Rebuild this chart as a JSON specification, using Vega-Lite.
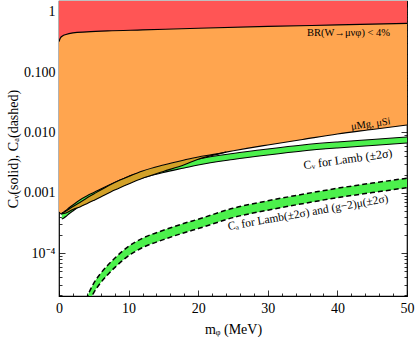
{
  "$schema": "https://vega.github.io/schema/vega-lite/v6.json",
  "width": 348,
  "height": 295,
  "autosize": {"type": "none"},
  "padding": {"left": 59, "top": 1, "right": 8, "bottom": 45},
  "background": "white",
  "datasets": {
    "up": [
      {"x": 0, "v": 0.3186}, {"x": 0.2, "v": 0.367}, {"x": 0.5, "v": 0.396}, {"x": 1, "v": 0.419},
      {"x": 2, "v": 0.444}, {"x": 4, "v": 0.461}, {"x": 7, "v": 0.479}, {"x": 12, "v": 0.498},
      {"x": 20, "v": 0.531}, {"x": 30, "v": 0.569}, {"x": 40, "v": 0.602}, {"x": 50, "v": 0.638}
    ],
    "mg": [
      {"x": 0, "v": 0.000483}, {"x": 0.3, "v": 0.0004474}, {"x": 1, "v": 0.0005015}, {"x": 2, "v": 0.0005955},
      {"x": 3, "v": 0.0006934}, {"x": 4, "v": 0.0008232}, {"x": 5, "v": 0.0009589}, {"x": 6, "v": 0.001117},
      {"x": 8, "v": 0.001487}, {"x": 10, "v": 0.001869}, {"x": 12, "v": 0.002305}, {"x": 15, "v": 0.002897},
      {"x": 18, "v": 0.003505}, {"x": 20, "v": 0.00393}, {"x": 22, "v": 0.004291}, {"x": 24, "v": 0.00472},
      {"x": 27, "v": 0.00545}, {"x": 30, "v": 0.006211}, {"x": 35, "v": 0.00766}, {"x": 40, "v": 0.009444},
      {"x": 45, "v": 0.011212}, {"x": 50, "v": 0.013311}
    ],
    "gold": [
      {"x": 0.3, "lo": 0.0004474, "hi": 0.0004474}, {"x": 1, "lo": 0.0004648, "hi": 0.0005015},
      {"x": 2, "lo": 0.000531, "hi": 0.0005955}, {"x": 3, "lo": 0.000585, "hi": 0.0006934},
      {"x": 4, "lo": 0.00066, "hi": 0.0008232}, {"x": 5, "lo": 0.00075, "hi": 0.0009589},
      {"x": 6, "lo": 0.000855, "hi": 0.001117}, {"x": 8, "lo": 0.00111, "hi": 0.001487},
      {"x": 10, "lo": 0.0014, "hi": 0.001869}, {"x": 12, "lo": 0.00174, "hi": 0.002305},
      {"x": 15, "lo": 0.00226, "hi": 0.002897}, {"x": 18, "lo": 0.00292, "hi": 0.003505},
      {"x": 20, "lo": 0.0036, "hi": 0.00393}, {"x": 22, "lo": 0.00415, "hi": 0.004291},
      {"x": 24, "lo": 0.00472, "hi": 0.00472}
    ],
    "cv": [
      {"x": 0.4, "lo": 0.0003697, "hi": 0.0004647}, {"x": 0.7, "lo": 0.0003841, "hi": 0.0004828},
      {"x": 1, "lo": 0.0004067, "hi": 0.0005112}, {"x": 1.5, "lo": 0.000456, "hi": 0.0005732},
      {"x": 2, "lo": 0.0005015, "hi": 0.0006304}, {"x": 3, "lo": 0.0006069, "hi": 0.0007629},
      {"x": 4, "lo": 0.0007067, "hi": 0.0008883}, {"x": 5, "lo": 0.0008077, "hi": 0.0010153},
      {"x": 6, "lo": 0.0009231, "hi": 0.0011603}, {"x": 8, "lo": 0.001182, "hi": 0.0014858},
      {"x": 10, "lo": 0.001487, "hi": 0.0018692}, {"x": 12, "lo": 0.001765, "hi": 0.0022186},
      {"x": 15, "lo": 0.002177, "hi": 0.0027365}, {"x": 18, "lo": 0.002584, "hi": 0.0032481},
      {"x": 20, "lo": 0.002897, "hi": 0.0036415}, {"x": 25, "lo": 0.003572, "hi": 0.00449},
      {"x": 30, "lo": 0.004242, "hi": 0.005332}, {"x": 35, "lo": 0.00494, "hi": 0.00621},
      {"x": 40, "lo": 0.005536, "hi": 0.006959}, {"x": 45, "lo": 0.006092, "hi": 0.007658},
      {"x": 50, "lo": 0.0067, "hi": 0.008422}
    ],
    "ca": [
      {"x": 3.5, "lo": 0.0000089, "hi": 0.0000128}, {"x": 4.4, "lo": 0.0000164, "hi": 0.0000235},
      {"x": 5, "lo": 0.0000223, "hi": 0.0000319}, {"x": 6, "lo": 0.0000326, "hi": 0.0000466},
      {"x": 7, "lo": 0.0000442, "hi": 0.0000633}, {"x": 8, "lo": 0.0000578, "hi": 0.0000826},
      {"x": 10, "lo": 0.0000911, "hi": 0.00013}, {"x": 12, "lo": 0.000124, "hi": 0.000177},
      {"x": 15, "lo": 0.000168, "hi": 0.00024}, {"x": 18, "lo": 0.000219, "hi": 0.000313},
      {"x": 20, "lo": 0.000256, "hi": 0.000366}, {"x": 25, "lo": 0.000389, "hi": 0.000556},
      {"x": 30, "lo": 0.000517, "hi": 0.000739}, {"x": 35, "lo": 0.000662, "hi": 0.000947},
      {"x": 40, "lo": 0.000833, "hi": 0.00119}, {"x": 45, "lo": 0.00101, "hi": 0.00145},
      {"x": 50, "lo": 0.00122, "hi": 0.00175}
    ]
  },
  "resolve": {"axis": {"x": "independent", "y": "independent"}},
  "layer": [
    {
      "data": {"name": "mg"},
      "mark": {"type": "area", "color": "#FFA54F", "interpolate": "monotone", "clip": true},
      "encoding": {
        "x": {"field": "x", "type": "quantitative", "scale": {"domain": [0, 50], "nice": false, "zero": false},
          "axis": {"orient": "bottom", "values": [0, 10, 20, 30, 40, 50], "title": "mᵩ (MeV)", "tickSize": -6, "labelPadding": 11, "titlePadding": 7, "labelFlush": false}},
        "y": {"field": "v", "type": "quantitative", "scale": {"type": "log", "domain": [0.0000196, 1.5], "nice": false},
          "axis": {"orient": "left", "values": [0.0001, 0.001, 0.01, 0.1, 1], "title": "Cᵥ(solid), Cₐ(dashed)", "tickSize": -6, "labelPadding": 10, "titlePadding": 3, "labelFlush": false,
            "labelExpr": "datum.value < 0.0005 ? '10⁻⁴' : datum.value > 0.5 ? '1' : format(datum.value, '.3f')"}},
        "y2": {"datum": 1.5}
      }
    },
    {
      "data": {"name": "up"},
      "mark": {"type": "area", "color": "#FF5555", "interpolate": "monotone", "clip": true},
      "encoding": {
        "x": {"field": "x", "type": "quantitative", "axis": {"orient": "top", "values": [0, 10, 20, 30, 40, 50], "labels": false, "title": null, "tickSize": -6}},
        "y": {"field": "v", "type": "quantitative", "axis": {"orient": "right", "values": [0.0001, 0.001, 0.01, 0.1, 1], "labels": false, "title": null, "tickSize": -6}},
        "y2": {"datum": 1.5}
      }
    },
    {
      "data": {"name": "cv"},
      "mark": {"type": "area", "color": "#4CF04C", "interpolate": "monotone", "clip": true},
      "encoding": {
        "x": {"field": "x", "type": "quantitative", "axis": {"orient": "bottom", "values": [2, 4, 6, 8, 12, 14, 16, 18, 22, 24, 26, 28, 32, 34, 36, 38, 42, 44, 46, 48], "labels": false, "title": null, "tickSize": -3}},
        "y": {"field": "lo", "type": "quantitative", "axis": {"orient": "left", "values": [0.00002, 0.00003, 0.00004, 0.00005, 0.00006, 0.00007, 0.00008, 0.00009, 0.0002, 0.0003, 0.0004, 0.0005, 0.0006, 0.0007, 0.0008, 0.0009, 0.002, 0.003, 0.004, 0.005, 0.006, 0.007, 0.008, 0.009, 0.02, 0.03, 0.04, 0.05, 0.06, 0.07, 0.08, 0.09, 0.2, 0.3, 0.4, 0.5, 0.6, 0.7, 0.8, 0.9], "labels": false, "title": null, "tickSize": -3}},
        "y2": {"field": "hi"}
      }
    },
    {
      "data": {"name": "cv"},
      "mark": {"type": "line", "color": "black", "strokeWidth": 1.1, "interpolate": "monotone", "clip": true},
      "encoding": {
        "x": {"field": "x", "type": "quantitative", "axis": {"orient": "top", "values": [2, 4, 6, 8, 12, 14, 16, 18, 22, 24, 26, 28, 32, 34, 36, 38, 42, 44, 46, 48], "labels": false, "title": null, "tickSize": -3}},
        "y": {"field": "hi", "type": "quantitative", "axis": {"orient": "right", "values": [0.00002, 0.00003, 0.00004, 0.00005, 0.00006, 0.00007, 0.00008, 0.00009, 0.0002, 0.0003, 0.0004, 0.0005, 0.0006, 0.0007, 0.0008, 0.0009, 0.002, 0.003, 0.004, 0.005, 0.006, 0.007, 0.008, 0.009, 0.02, 0.03, 0.04, 0.05, 0.06, 0.07, 0.08, 0.09, 0.2, 0.3, 0.4, 0.5, 0.6, 0.7, 0.8, 0.9], "labels": false, "title": null, "tickSize": -3}}
      }
    },
    {
      "data": {"name": "cv"},
      "mark": {"type": "line", "color": "black", "strokeWidth": 1.1, "interpolate": "monotone", "clip": true},
      "encoding": {
        "x": {"field": "x", "type": "quantitative", "axis": null},
        "y": {"field": "lo", "type": "quantitative", "axis": null}
      }
    },
    {
      "data": {"name": "gold"},
      "mark": {"type": "area", "color": "#D2A128", "interpolate": "monotone", "clip": true},
      "encoding": {
        "x": {"field": "x", "type": "quantitative", "axis": null},
        "y": {"field": "lo", "type": "quantitative", "axis": null},
        "y2": {"field": "hi"}
      }
    },
    {
      "data": {"name": "gold"},
      "mark": {"type": "line", "color": "black", "strokeWidth": 1.1, "interpolate": "monotone", "clip": true},
      "encoding": {
        "x": {"field": "x", "type": "quantitative", "axis": null},
        "y": {"field": "lo", "type": "quantitative", "axis": null}
      }
    },
    {
      "data": {"name": "mg"},
      "mark": {"type": "line", "color": "black", "strokeWidth": 1.1, "interpolate": "monotone", "clip": true},
      "encoding": {
        "x": {"field": "x", "type": "quantitative", "axis": null},
        "y": {"field": "v", "type": "quantitative", "axis": null}
      }
    },
    {
      "data": {"name": "up"},
      "mark": {"type": "line", "color": "black", "strokeWidth": 1.2, "interpolate": "monotone", "clip": true},
      "encoding": {
        "x": {"field": "x", "type": "quantitative", "axis": null},
        "y": {"field": "v", "type": "quantitative", "axis": null}
      }
    },
    {
      "data": {"name": "ca"},
      "mark": {"type": "area", "color": "#4CF04C", "interpolate": "monotone", "clip": true},
      "encoding": {
        "x": {"field": "x", "type": "quantitative", "axis": null},
        "y": {"field": "lo", "type": "quantitative", "axis": null},
        "y2": {"field": "hi"}
      }
    },
    {
      "data": {"name": "ca"},
      "mark": {"type": "line", "color": "black", "strokeWidth": 1.5, "strokeDash": [5, 3], "interpolate": "monotone", "clip": true},
      "encoding": {
        "x": {"field": "x", "type": "quantitative", "axis": null},
        "y": {"field": "lo", "type": "quantitative", "axis": null}
      }
    },
    {
      "data": {"name": "ca"},
      "mark": {"type": "line", "color": "black", "strokeWidth": 1.5, "strokeDash": [5, 3], "interpolate": "monotone", "clip": true},
      "encoding": {
        "x": {"field": "x", "type": "quantitative", "axis": null},
        "y": {"field": "hi", "type": "quantitative", "axis": null}
      }
    },
    {
      "data": {"values": [{"x": 41.6, "v": 0.444, "t": "BR(W→μνφ) < 4%"}]},
      "mark": {"type": "text", "font": "Liberation Serif", "fontSize": 10.5, "color": "black"},
      "encoding": {
        "x": {"field": "x", "type": "quantitative", "axis": null},
        "y": {"field": "v", "type": "quantitative", "axis": null},
        "text": {"field": "t"}
      }
    },
    {
      "data": {"values": [{"x": 44.8, "v": 0.0138, "t": "μMg, μSi"}]},
      "mark": {"type": "text", "font": "Liberation Serif", "fontSize": 10.5, "color": "black", "angle": 352},
      "encoding": {
        "x": {"field": "x", "type": "quantitative", "axis": null},
        "y": {"field": "v", "type": "quantitative", "axis": null},
        "text": {"field": "t"}
      }
    },
    {
      "data": {"values": [{"x": 41.5, "v": 0.00364, "t": "Cᵥ for Lamb (±2σ)"}]},
      "mark": {"type": "text", "font": "Liberation Serif", "fontSize": 12, "color": "black", "angle": 352},
      "encoding": {
        "x": {"field": "x", "type": "quantitative", "axis": null},
        "y": {"field": "v", "type": "quantitative", "axis": null},
        "text": {"field": "t"}
      }
    },
    {
      "data": {"values": [{"x": 35.8, "v": 0.000465, "t": "Cₐ for Lamb(±2σ) and (g−2)μ(±2σ)"}]},
      "mark": {"type": "text", "font": "Liberation Serif", "fontSize": 11.5, "color": "black", "angle": 350},
      "encoding": {
        "x": {"field": "x", "type": "quantitative", "axis": null},
        "y": {"field": "v", "type": "quantitative", "axis": null},
        "text": {"field": "t"}
      }
    }
  ],
  "config": {
    "view": {"stroke": "black", "strokeWidth": 1.2},
    "axis": {
      "domain": false, "grid": false, "tickColor": "black", "tickWidth": 0.8,
      "labelFont": "Liberation Serif", "labelFontSize": 14, "labelColor": "black",
      "titleFont": "Liberation Serif", "titleFontSize": 14, "titleFontWeight": "normal", "titleColor": "black"
    }
  }
}
